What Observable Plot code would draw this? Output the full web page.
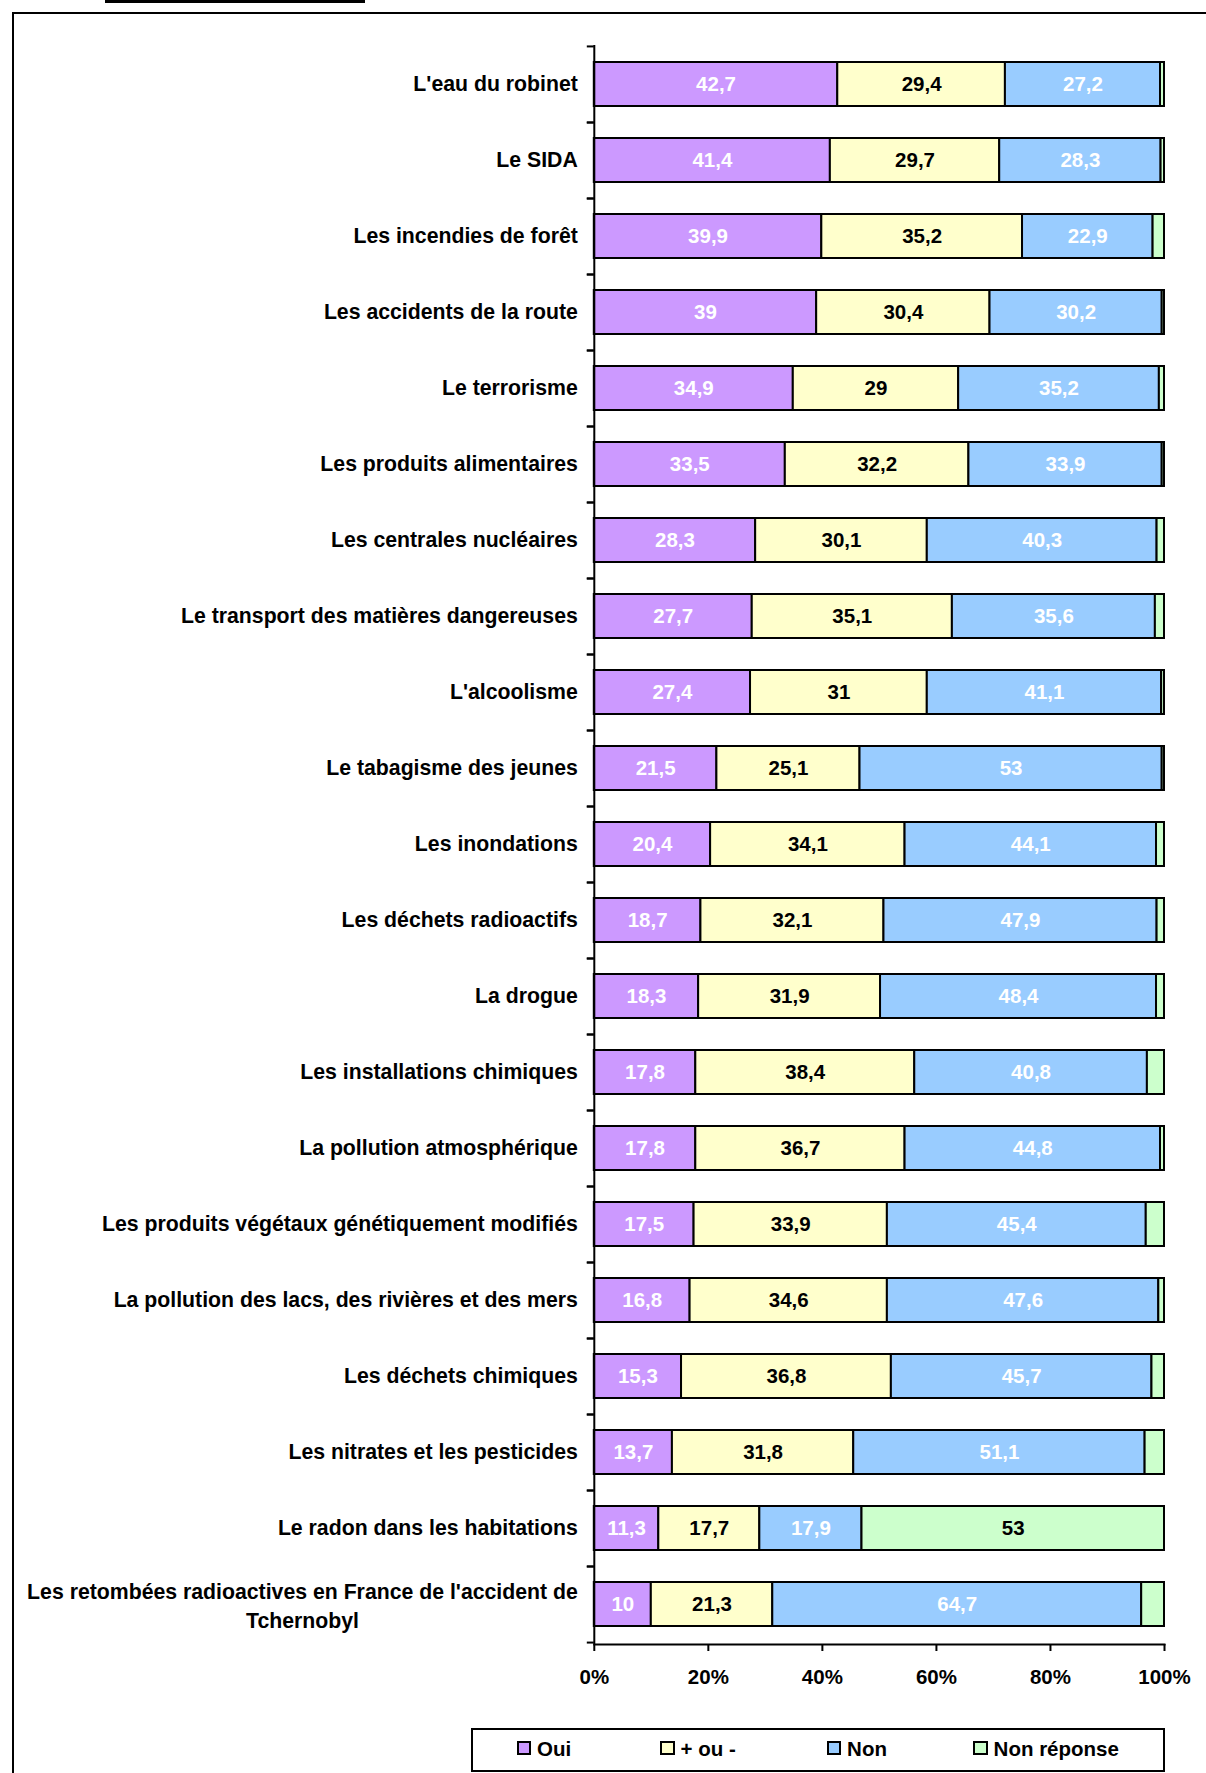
<!DOCTYPE html>
<html><head><meta charset="utf-8">
<script src="https://cdn.jsdelivr.net/npm/d3@7"></script>
<script src="https://cdn.jsdelivr.net/npm/@observablehq/plot@0.6"></script>
<style>
body{margin:0;background:#fff;}
#wrap{position:relative;width:1206px;height:1773px;overflow:hidden;background:#fff;font-family:"Liberation Sans",Arial,sans-serif;}
#wrap svg{position:absolute;left:0;top:0;}
.frame{position:absolute;left:11.5px;top:11.5px;width:1400px;height:2000px;border:2px solid #000;box-sizing:border-box;}
.topline{position:absolute;left:105px;top:0;width:260px;height:2.5px;background:#000;}
.legend{position:absolute;left:471px;top:1727.5px;width:693.5px;height:44px;border:2px solid #000;box-sizing:border-box;background:#fff;}
.sw{position:absolute;width:14.5px;height:13.5px;border:2px solid #000;box-sizing:border-box;}
.lt{position:absolute;font-weight:bold;font-size:20.5px;line-height:1;white-space:nowrap;color:#000;}
</style></head><body>
<div id="wrap"><div class="topline"></div><div class="frame"></div></div>
<script>
const categories = [
  "L'eau du robinet",
  "Le SIDA",
  "Les incendies de forêt",
  "Les accidents de la route",
  "Le terrorisme",
  "Les produits alimentaires",
  "Les centrales nucléaires",
  "Le transport des matières dangereuses",
  "L'alcoolisme",
  "Le tabagisme des jeunes",
  "Les inondations",
  "Les déchets radioactifs",
  "La drogue",
  "Les installations chimiques",
  "La pollution atmosphérique",
  "Les produits végétaux génétiquement modifiés",
  "La pollution des lacs, des rivières et des mers",
  "Les déchets chimiques",
  "Les nitrates et les pesticides",
  "Le radon dans les habitations",
  "Les retombées radioactives en France de l'accident de Tchernobyl"
];
const oui         = [42.7, 41.4, 39.9, 39, 34.9, 33.5, 28.3, 27.7, 27.4, 21.5, 20.4, 18.7, 18.3, 17.8, 17.8, 17.5, 16.8, 15.3, 13.7, 11.3, 10];
const plusOuMoins = [29.4, 29.7, 35.2, 30.4, 29, 32.2, 30.1, 35.1, 31, 25.1, 34.1, 32.1, 31.9, 38.4, 36.7, 33.9, 34.6, 36.8, 31.8, 17.7, 21.3];
const non         = [27.2, 28.3, 22.9, 30.2, 35.2, 33.9, 40.3, 35.6, 41.1, 53, 44.1, 47.9, 48.4, 40.8, 44.8, 45.4, 47.6, 45.7, 51.1, 17.9, 64.7];
const nonReponse  = [0.7, 0.6, 2, 0.4, 0.9, 0.4, 1.3, 1.6, 0.5, 0.4, 1.4, 1.3, 1.4, 3, 0.7, 3.2, 1, 2.2, 3.4, 53, 4];
const seriesNames  = ["Oui", "+ ou -", "Non", "Non réponse"];
const seriesColors = ["#CC99FF", "#FFFFCC", "#99CCFF", "#CCFFCC"];
const xTicks = [0, 0.2, 0.4, 0.6, 0.8, 1];
const legendX = [516.5, 660, 826.5, 973];

const seriesValues = [oui, plusOuMoins, non, nonReponse];
const rows = [];
categories.forEach((c, i) => seriesNames.forEach((s, j) => rows.push({cat: c, series: s, value: seriesValues[j][i]})));

const W = 1206, H = 1700, mt = 45, mb = H - 1644, ml = 593.8, mr = W - 1164;
const n = categories.length;
const step = (H - mt - mb) / n;
const fmt = v => String(v).replace(".", ",");
const font = '"Liberation Sans", Arial, sans-serif';
const catSize = 21.25;
const longCat = categories[n - 1];
const splitLong = d => d.replace(/ (\S+)$/, "\n$1");
const ctx = document.createElement("canvas").getContext("2d");
ctx.font = "bold " + catSize + "px " + font;
const longW = ctx.measureText(splitLong(longCat).split("\n")[0]).width;

const st = {x: "value", y: "cat", z: "series", offset: "normalize"};
const chart = Plot.plot({
  width: W, height: H,
  marginTop: mt, marginBottom: mb, marginLeft: ml, marginRight: mr,
  style: {fontFamily: font, fontWeight: "bold", fontSize: catSize + "px", color: "#000", background: "transparent", overflow: "visible"},
  x: {domain: [0, 1], axis: null},
  y: {domain: categories, paddingInner: 0.418, paddingOuter: 0.209, axis: null},
  color: {domain: seriesNames, range: seriesColors},
  marks: [
    Plot.barX(rows, Plot.stackX({...st, fill: "series", stroke: "#000", strokeWidth: 2})),
    Plot.text(rows, Plot.stackX({...st, text: d => (d.series === "Oui" || d.series === "Non") ? fmt(d.value) : "", fill: "#fff", fontSize: 20.5, fontWeight: "bold"})),
    Plot.text(rows, Plot.stackX({...st, text: d => (d.series === "+ ou -" || (d.series === "Non réponse" && d.value >= 5)) ? fmt(d.value) : "", fill: "#000", fontSize: 20.5, fontWeight: "bold"})),
    Plot.ruleX([0], {stroke: "#000", strokeWidth: 2}),
    Plot.frame({anchor: "bottom", stroke: "#000", strokeWidth: 2}),
    Plot.axisX({ticks: xTicks, tickFormat: d3.format(".0%"), tickSize: 7, tickPadding: 18, strokeWidth: 2, fontSize: 20.5, label: null}),
    Plot.axisY({tickSize: 7, dy: -step / 2, fill: "none", strokeWidth: 2, label: null}),
    Plot.axisY({tickSize: 7, dy: step / 2, fill: "none", strokeWidth: 2, label: null}),
    Plot.axisY({ticks: categories.slice(0, -1), tickSize: 0, tickPadding: 16.5, fontSize: catSize, label: null}),
    Plot.axisY({ticks: [longCat], tickSize: 0, tickPadding: 16.5, textAnchor: "middle", dx: -longW / 2, lineHeight: 1.36, tickFormat: splitLong, fontSize: catSize, label: null})
  ]
});
const wrap = document.getElementById("wrap");
wrap.appendChild(chart);

const legend = document.createElement("div");
legend.className = "legend";
wrap.appendChild(legend);
seriesNames.forEach((s, j) => {
  const sw = document.createElement("div");
  sw.className = "sw";
  sw.style.left = legendX[j] + "px";
  sw.style.top = "1741.2px";
  sw.style.background = seriesColors[j];
  wrap.appendChild(sw);
  const t = document.createElement("div");
  t.className = "lt";
  t.textContent = s;
  t.style.left = (legendX[j] + 20.6) + "px";
  t.style.top = "1738.5px";
  wrap.appendChild(t);
});
</script>
</body></html>
